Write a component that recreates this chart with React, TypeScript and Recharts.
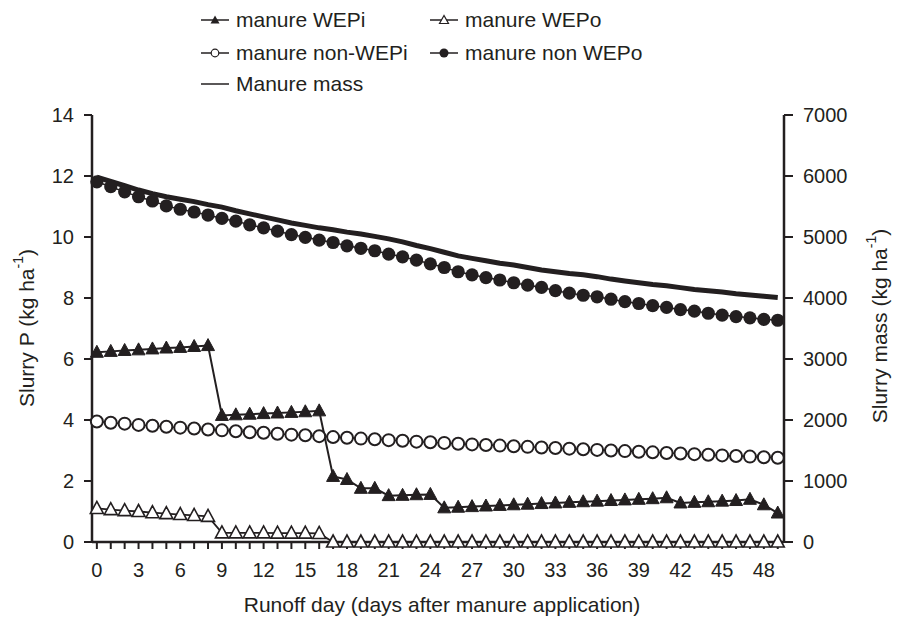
import { ComposedChart, Line, XAxis, YAxis, Label } from 'recharts'

const INK = '#231f20'
const FONT = '"Liberation Sans", Arial, Helvetica, sans-serif'

const days = [
  0, 1, 2, 3, 4, 5, 6, 7, 8, 9, 10, 11, 12, 13, 14, 15, 16, 17, 18, 19, 20, 21, 22, 23, 24,
  25, 26, 27, 28, 29, 30, 31, 32, 33, 34, 35, 36, 37, 38, 39, 40, 41, 42, 43, 44, 45, 46, 47, 48, 49,
]

const manureWEPi = [
  6.22, 6.25, 6.28, 6.3, 6.33, 6.36, 6.38, 6.41, 6.44, 4.15, 4.17, 4.19, 4.21, 4.23, 4.25, 4.27, 4.3,
  2.15, 2.05, 1.76, 1.76, 1.52, 1.53, 1.55, 1.56, 1.12, 1.14, 1.16, 1.18, 1.2, 1.22, 1.24, 1.26, 1.28,
  1.3, 1.32, 1.34, 1.36, 1.38, 1.4, 1.42, 1.45, 1.28, 1.3, 1.32, 1.34, 1.36, 1.4, 1.22, 0.95,
]

const manureWEPo = [
  1.1, 1.06, 1.03, 1.0, 0.96, 0.93, 0.9, 0.87, 0.84, 0.3, 0.3, 0.3, 0.3, 0.29, 0.29, 0.29, 0.28,
  0, 0, 0, 0, 0, 0, 0, 0, 0, 0, 0, 0, 0, 0, 0, 0, 0, 0, 0, 0, 0, 0, 0, 0, 0, 0, 0, 0, 0, 0, 0, 0, 0,
]

const manureNonWEPi = [
  3.95, 3.91, 3.88, 3.84, 3.81, 3.78, 3.75, 3.72, 3.69, 3.66, 3.63, 3.6, 3.58, 3.55, 3.52, 3.5, 3.47,
  3.44, 3.42, 3.39, 3.37, 3.34, 3.32, 3.29, 3.27, 3.25, 3.22, 3.2, 3.18, 3.16, 3.14, 3.12, 3.1, 3.08,
  3.06, 3.04, 3.02, 3.0, 2.98, 2.96, 2.94, 2.92, 2.9, 2.88, 2.86, 2.84, 2.82, 2.8, 2.78, 2.76,
]

const manureNonWEPo = [
  11.81, 11.65, 11.48, 11.32, 11.18, 11.02, 10.91, 10.82, 10.72, 10.61, 10.52, 10.4, 10.3, 10.19,
  10.08, 9.99, 9.9, 9.82, 9.71, 9.63, 9.55, 9.44, 9.35, 9.24, 9.12, 9.0, 8.86, 8.76, 8.67, 8.59, 8.5,
  8.42, 8.35, 8.24, 8.16, 8.09, 8.04, 7.96, 7.88, 7.82, 7.75, 7.69, 7.62, 7.57, 7.5, 7.44, 7.39,
  7.35, 7.3, 7.27,
]

const manureMass = [
  5980, 5910, 5840, 5770, 5710, 5660, 5620, 5580, 5530, 5490, 5430, 5380, 5330, 5280, 5230, 5190,
  5150, 5120, 5080, 5050, 5010, 4970, 4920, 4860, 4810, 4750, 4690, 4650, 4610, 4570, 4540, 4500,
  4460, 4430, 4400, 4380, 4350, 4310, 4280, 4250, 4220, 4200, 4170, 4140, 4120, 4100, 4070, 4050,
  4030, 4010,
]

const leftTicks = [0, 2, 4, 6, 8, 10, 12, 14]
const rightTicks = [0, 1000, 2000, 3000, 4000, 5000, 6000, 7000]

const data = days.map((d, i) => ({
  day: d,
  wepi: manureWEPi[i],
  wepo: manureWEPo[i],
  nonWepi: manureNonWEPi[i],
  nonWepo: manureNonWEPo[i],
  mass: manureMass[i],
}))

// marker shapes
const FilledTriangle = ({ cx, cy }: any) =>
  cx == null ? null : (
    <polygon points={`${cx},${cy - 7} ${cx - 6.5},${cy + 5} ${cx + 6.5},${cy + 5}`} fill={INK} stroke={INK} strokeWidth={1} />
  )
const OpenTriangle = ({ cx, cy }: any) =>
  cx == null ? null : (
    <polygon points={`${cx},${cy - 7} ${cx - 6.5},${cy + 5} ${cx + 6.5},${cy + 5}`} fill="#fff" stroke={INK} strokeWidth={1.6} />
  )
const OpenCircle = ({ cx, cy }: any) =>
  cx == null ? null : <circle cx={cx} cy={cy} r={6} fill="#fff" stroke={INK} strokeWidth={2} />
const FilledCircle = ({ cx, cy }: any) =>
  cx == null ? null : <circle cx={cx} cy={cy} r={6.6} fill={INK} />

const XTick = ({ x, y, payload }: any) => (
  <text x={x} y={y} dy="0.71em" textAnchor="middle" fill={INK} fontSize={20} fontFamily={FONT}>
    {payload.value % 3 === 0 ? payload.value : ''}
  </text>
)

const Unit = () => (
  <>
    {' (kg ha'}
    <tspan baselineShift="super" fontSize={14}>-1</tspan>
    {')'}
  </>
)

const LegendIcon = ({ kind }: { kind: string }) => (
  <svg width={30} height={16} style={{ marginRight: 6 }}>
    <line x1={1} y1={8} x2={29} y2={8} stroke={INK} strokeWidth={1.5} />
    {kind === 'ft' && <polygon points="15,3.5 10.5,11.5 19.5,11.5" fill={INK} />}
    {kind === 'ot' && <polygon points="15,3.5 10.5,11.5 19.5,11.5" fill="#fff" stroke={INK} strokeWidth={1.2} />}
    {kind === 'oc' && <circle cx={15} cy={8} r={3.8} fill="#fff" stroke={INK} strokeWidth={1.2} />}
    {kind === 'fc' && <circle cx={15} cy={8} r={4.5} fill={INK} />}
  </svg>
)

const legendItems = [
  { label: 'manure WEPi', kind: 'ft', left: 200, top: 20 },
  { label: 'manure WEPo', kind: 'ot', left: 429, top: 20 },
  { label: 'manure non-WEPi', kind: 'oc', left: 200, top: 53 },
  { label: 'manure non WEPo', kind: 'fc', left: 429, top: 53 },
  { label: 'Manure mass', kind: 'line', left: 200, top: 84 },
]

export default function App() {
  return (
    <div style={{ position: 'absolute', left: 0, top: 0, width: 899, height: 617, background: '#fff', fontFamily: FONT }}>
      {legendItems.map(item => (
        <div
          key={item.label}
          style={{
            position: 'absolute', left: item.left, top: item.top - 12, height: 24,
            display: 'flex', alignItems: 'center', fontSize: 21, color: INK, whiteSpace: 'nowrap',
          }}
        >
          <LegendIcon kind={item.kind} />
          {item.label}
        </div>
      ))}
      <ComposedChart width={899} height={617} data={data} margin={{ top: 115, right: 55, bottom: 35, left: 32 }}>
        <XAxis
          dataKey="day"
          type="number"
          domain={[-0.35, 49.45]}
          ticks={days}
          interval={0}
          tick={<XTick />}
          tickSize={7}
          tickMargin={14}
          height={40}
          axisLine={{ stroke: INK, strokeWidth: 2.5 }}
          tickLine={{ stroke: INK, strokeWidth: 2 }}
        >
          <Label
            content={({ viewBox }: any) => (
              <text x={viewBox.x + viewBox.width / 2 + 4} y={viewBox.y + 70} textAnchor="middle" fill={INK} fontSize={21} fontFamily={FONT}>
                Runoff day (days after manure application)
              </text>
            )}
          />
        </XAxis>
        <YAxis
          yAxisId="left"
          domain={[0, 14]}
          ticks={leftTicks}
          width={60}
          tickSize={8}
          tickMargin={10}
          tick={{ fill: INK, fontSize: 20, fontFamily: FONT }}
          axisLine={{ stroke: INK, strokeWidth: 2.5 }}
          tickLine={{ stroke: INK, strokeWidth: 2 }}
        >
          <Label
            content={() => (
              <text x={26} y={328} transform="rotate(-90 26 328)" textAnchor="middle" dominantBaseline="central" fill={INK} fontSize={21} fontFamily={FONT}>
                Slurry P<Unit />
              </text>
            )}
          />
        </YAxis>
        <YAxis
          yAxisId="right"
          orientation="right"
          domain={[0, 7000]}
          ticks={rightTicks}
          width={60}
          tickSize={9}
          tickMargin={10}
          tick={{ fill: INK, fontSize: 20, fontFamily: FONT }}
          axisLine={{ stroke: INK, strokeWidth: 2.5 }}
          tickLine={{ stroke: INK, strokeWidth: 2 }}
        >
          <Label
            content={() => (
              <text x={879} y={326} transform="rotate(-90 879 326)" textAnchor="middle" dominantBaseline="central" fill={INK} fontSize={21} fontFamily={FONT}>
                Slurry mass<Unit />
              </text>
            )}
          />
        </YAxis>
        <Line yAxisId="right" dataKey="mass" name="Manure mass" type="linear" stroke={INK} strokeWidth={5} dot={false} isAnimationActive={false} />
        <Line yAxisId="left" dataKey="nonWepi" name="manure non-WEPi" type="linear" stroke={INK} strokeWidth={1.5} dot={<OpenCircle />} isAnimationActive={false} />
        <Line yAxisId="left" dataKey="nonWepo" name="manure non WEPo" type="linear" stroke={INK} strokeWidth={1.5} dot={<FilledCircle />} isAnimationActive={false} />
        <Line yAxisId="left" dataKey="wepo" name="manure WEPo" type="linear" stroke={INK} strokeWidth={1.8} dot={<OpenTriangle />} isAnimationActive={false} />
        <Line yAxisId="left" dataKey="wepi" name="manure WEPi" type="linear" stroke={INK} strokeWidth={2} dot={<FilledTriangle />} isAnimationActive={false} />
      </ComposedChart>
    </div>
  )
}
